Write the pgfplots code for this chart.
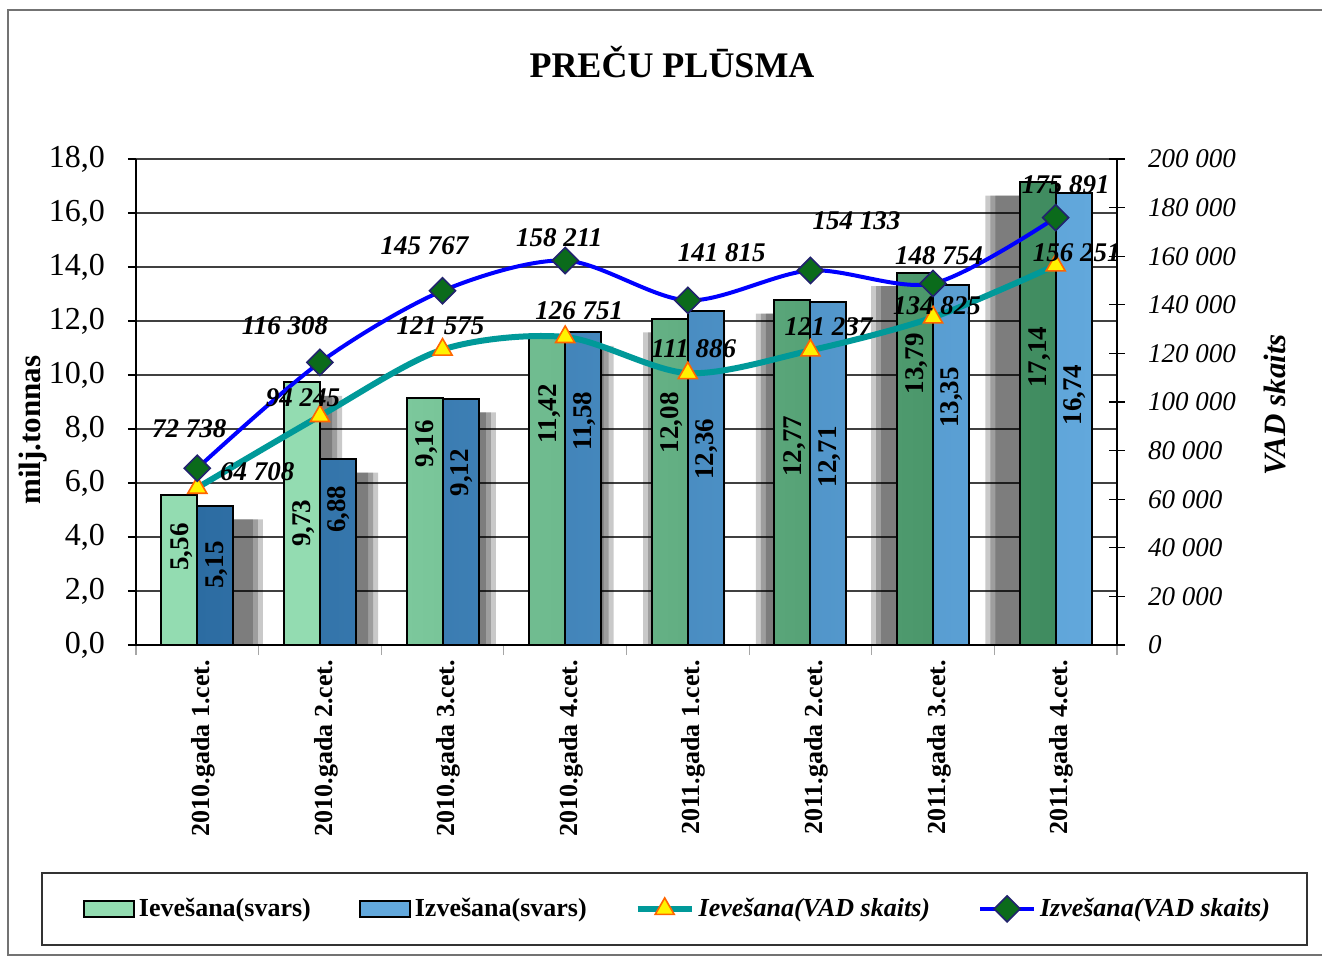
\documentclass[border=0pt]{standalone}
\usepackage{pgfplots}
\pgfplotsset{compat=1.18}
\usepackage{pgfplotstable}
\usepackage{fontspec}
\setmainfont{Liberation Serif}
\definecolor{grL}{HTML}{93DCB1}
\definecolor{grE}{HTML}{7CC89C}
\definecolor{grM}{HTML}{4C996B}
\definecolor{grD}{HTML}{3F8B5F}
\definecolor{blL}{HTML}{62A8DC}
\definecolor{blD}{HTML}{2C6CA2}
\definecolor{tealc}{HTML}{009999}
\definecolor{diag}{HTML}{0B6B1B}
\definecolor{navyc}{HTML}{22226E}
\definecolor{orangec}{HTML}{FF6600}

% bars: value and label offset (pt below bar top)
\pgfplotstableread{
x iev offi
0 5.56 26
1 9.73 70.5
}\ievL
\pgfplotstableread{
x iev offi
2 9.16 23
3 11.42 38.5
4 12.08 52
5 12.77 73
6 13.79 45.5
7 17.14 87.5
}\ievD
\pgfplotstableread{
x izv offz
0 5.15 29.5
1 6.88 25
2 9.12 37
3 11.58 44.5
4 12.36 69
5 12.71 77.5
6 13.35 56.5
7 16.74 101
}\izv
% shadows: shifted position and top
\pgfplotstableread{
xs ivs izs
0.20 5.06 4.65
1.14 9.23 6.38
2.10 8.66 8.62
3.06 10.92 11.08
3.97 11.58 11.86
4.89 12.27 12.21
5.83 13.29 12.85
6.76 16.64 16.24
}\shad
% VAD lines with label offsets (pt)
\pgfplotstableread{
x ievv izvv dxi dyi dxz dyz
0 64708 72738 30 8 -4 20
1 94245 116308 -8.5 9 -17.5 18.5
2 121575 145767 -1 12 -9 22.5
3 126751 158211 7 13 -3 11.5
4 111886 141815 3 12 17 24
5 121237 154133 9 12 23 25
6 134825 148754 2 6 3 14
7 156251 175891 10.5 6.5 5 16.5
}\vad

\pgfplotsset{
  shadowbar/.style={ybar, bar width=#1, draw=none, fill=black, fill opacity=0.21, forget plot},
  barlab/.style={
    nodes near coords={\rotatebox{90}{\pgfmathprintnumber[fixed,fixed zerofill,precision=2,use comma,assume math mode=true]{\pgfplotspointmeta}}},
    every node near coord/.append style={anchor=center, xshift=#1, yshift=-\off pt, text=black,
      font=\bfseries\fontsize{13.5pt}{16pt}\selectfont}},
  linelab/.style={
    nodes near coords={\pgfmathprintnumber[fixed,precision=0,1000 sep={\ },assume math mode=true]{\pgfplotspointmeta}},
    every node near coord/.append style={anchor=center, xshift=\dx pt, yshift=\dy pt, text=black,
      font=\bfseries\itshape\fontsize{13.5pt}{16pt}\selectfont}},
}

\begin{document}
\begin{tikzpicture}
\useasboundingbox (0,0) rectangle (661pt,479.5pt);
\draw[black!55, line width=0.6pt] (4pt,2pt) rectangle (668pt,474.5pt);
\node[font=\bfseries\fontsize{18pt}{22pt}\selectfont] at (336pt,448.5pt) {PREČU PLŪSMA};
\draw[black!80, line width=0.6pt] (21pt,7pt) rectangle (653.5pt,43pt);

\begin{axis}[
  at={(68pt,157pt)}, anchor=south west, scale only axis,
  width=490.5pt, height=243pt, clip=false,
  xmin=-0.5, xmax=7.5, ymin=0, ymax=18,
  axis x line*=bottom, axis y line*=left,
  axis line style={black, line width=0.6pt},
  ytick={0,2,...,18},
  ymajorgrids, major grid style={black!75, line width=0.6pt},
  tick align=outside, major tick length=4pt,
  ytick style={black, line width=0.6pt},
  xtick={0,...,7}, major x tick style={draw=none},
  minor xtick={-0.5,0.5,...,7.5}, minor x tick style={black!35, line width=0.6pt}, minor tick length=5pt,
  xticklabels={2010.gada 1.cet., 2010.gada 2.cet., 2010.gada 3.cet., 2010.gada 4.cet.,
               2011.gada 1.cet., 2011.gada 2.cet., 2011.gada 3.cet., 2011.gada 4.cet.},
  xticklabel style={rotate=90, anchor=east, yshift=-3pt, font=\bfseries\fontsize{13pt}{15pt}\selectfont},
  yticklabel style={xshift=-8pt, font=\fontsize{16pt}{19pt}\selectfont},
  /pgf/number format/.cd, fixed, fixed zerofill, precision=1, use comma, assume math mode=true,
  /pgfplots/.cd,
  ylabel={milj.tonnas},
  ylabel style={at={(axis description cs:-0.105,0.442)}, anchor=center, font=\bfseries\fontsize{15.5pt}{18pt}\selectfont},
]
% shadows
\addplot[shadowbar=23pt, bar shift=-9pt] table[x=xs,y=ivs]{\shad};
\addplot[shadowbar=23pt, bar shift=9pt] table[x=xs,y=izs]{\shad};
\addplot[shadowbar=18pt, bar shift=-9pt] table[x=xs,y=ivs]{\shad};
\addplot[shadowbar=18pt, bar shift=9pt] table[x=xs,y=izs]{\shad};
\addplot[shadowbar=13pt, bar shift=-9pt] table[x=xs,y=ivs]{\shad};
\addplot[shadowbar=13pt, bar shift=9pt] table[x=xs,y=izs]{\shad};
% bars
\addplot[ybar, bar width=18pt, bar shift=-9pt, draw=black, line width=1pt, fill=grL,
  visualization depends on={\thisrow{offi}\as\off}, barlab=-8pt] table[x=x,y=iev]{\ievL};
\addplot[ybar, bar width=18pt, bar shift=-9pt, draw=black, line width=1pt,
  left color=grE, middle color=grM, right color=grD,
  visualization depends on={\thisrow{offi}\as\off}, barlab=-8pt] table[x=x,y=iev]{\ievD};
\addplot[ybar, bar width=18pt, bar shift=9pt, draw=black, line width=1pt,
  left color=blD, middle color=blD, right color=blL,
  visualization depends on={\thisrow{offz}\as\off}, barlab=9.5pt] table[x=x,y=izv]{\izv};
\end{axis}

\begin{axis}[
  at={(68pt,157pt)}, anchor=south west, scale only axis,
  width=490.5pt, height=243pt, clip=false,
  xmin=-0.5, xmax=7.5, ymin=0, ymax=200000,
  axis x line=none, axis y line*=right,
  axis line style={black, line width=0.6pt},
  ytick={0,20000,...,200000}, scaled y ticks=false,
  tick align=center, major tick length=8pt,
  ytick style={black, line width=0.6pt},
  yticklabel style={xshift=8pt, font=\itshape\fontsize{13.5pt}{16pt}\selectfont},
  /pgf/number format/.cd, fixed, precision=0, 1000 sep={\ }, assume math mode=true,
  /pgfplots/.cd,
  ylabel={VAD skaits},
  ylabel style={at={(axis description cs:1.161,0.494)}, anchor=center, font=\bfseries\itshape\fontsize{15.5pt}{18pt}\selectfont},
  legend style={at={(axis description cs:0.553,-0.543)}, anchor=center, draw=none, fill=none,
    legend columns=4, font=\bfseries\fontsize{13pt}{15pt}\selectfont,
    /tikz/every even column/.append style={column sep=22pt}},
  legend image code/.code={\draw[mark repeat=2, mark phase=2, #1] plot coordinates {(0pt,0pt) (13.5pt,0pt) (27pt,0pt)};},
]
\addlegendimage{legend image code/.code={\draw[fill=grL,draw=black,line width=1pt] (0pt,-4pt) rectangle (25pt,4pt);}}
\addlegendentry{Ievešana(svars)}
\addlegendimage{legend image code/.code={\draw[fill=blL,draw=black,line width=1pt] (0pt,-4pt) rectangle (25pt,4pt);}}
\addlegendentry{Izvešana(svars)}

\addplot[tealc, line width=3pt, smooth, mark=triangle*, mark size=5.5pt,
  mark options={fill=yellow, draw=orangec, line width=0.8pt, solid},
  visualization depends on={\thisrow{dxi}\as\dx},
  visualization depends on={\thisrow{dyi}\as\dy}, linelab] table[x=x,y=ievv]{\vad};
\addlegendentry{\itshape Ievešana(VAD skaits)}
\addplot[blue, line width=2pt, smooth, mark=square*, mark size=4.6pt,
  mark options={fill=diag, draw=navyc, line width=0.8pt, solid, rotate=45},
  visualization depends on={\thisrow{dxz}\as\dx},
  visualization depends on={\thisrow{dyz}\as\dy}, linelab] table[x=x,y=izvv]{\vad};
\addlegendentry{\itshape Izvešana(VAD skaits)}
\end{axis}
\end{tikzpicture}
\end{document}
